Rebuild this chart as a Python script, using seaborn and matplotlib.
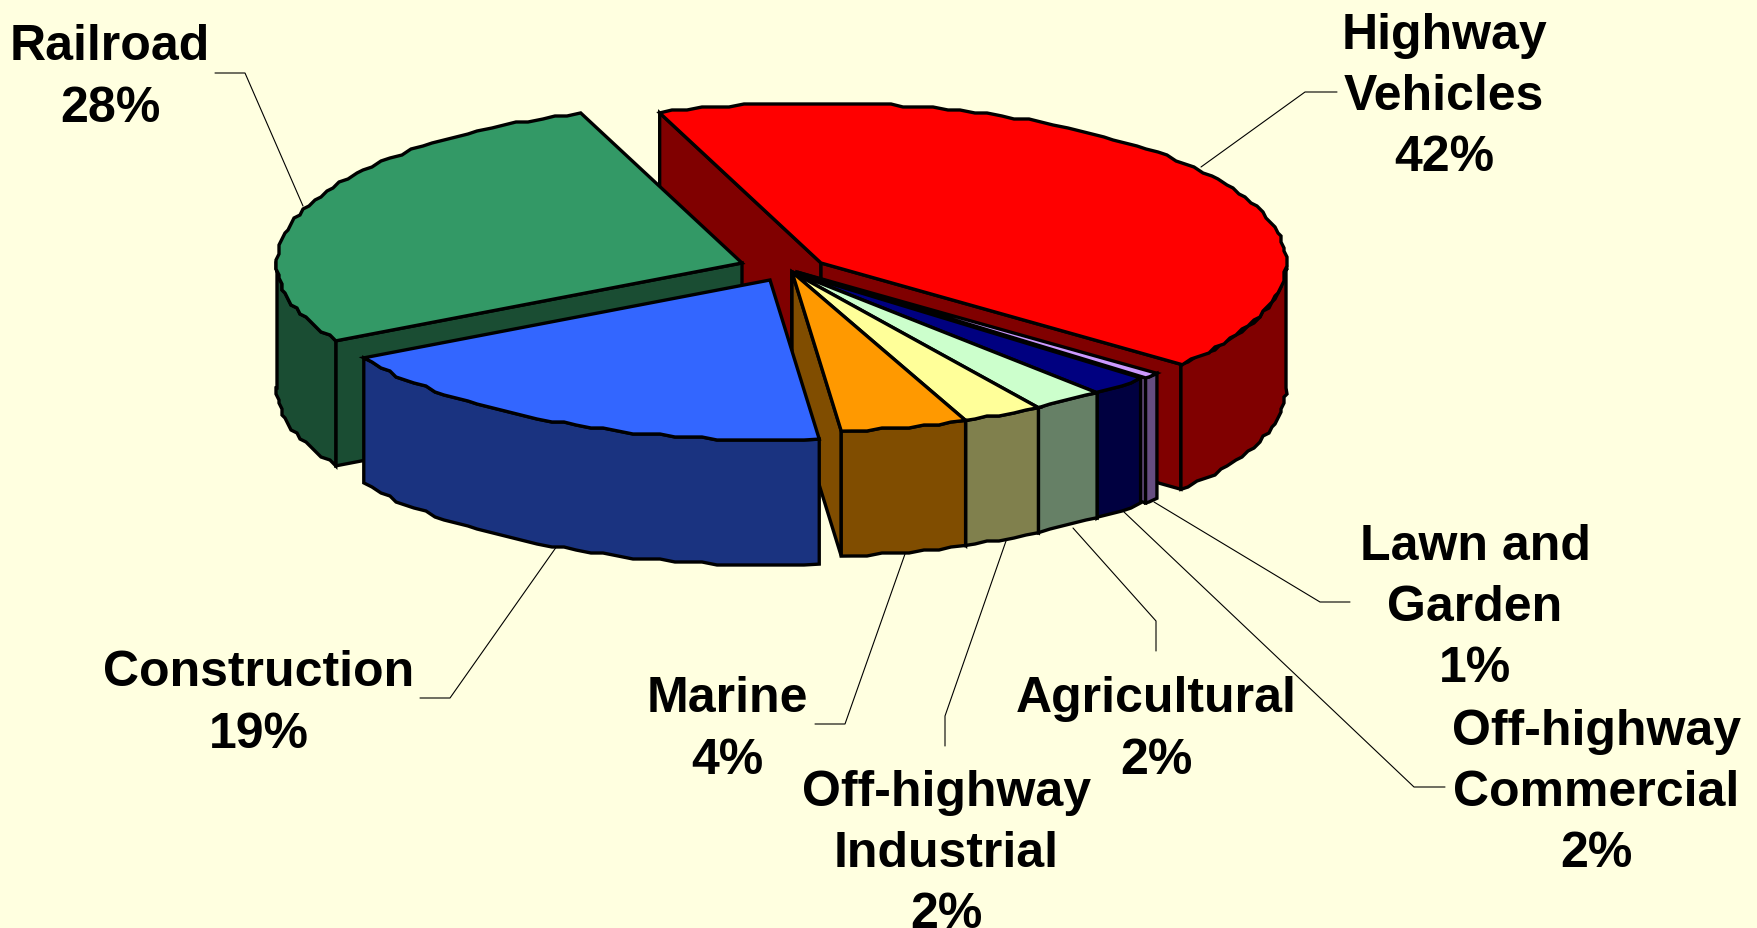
import numpy as np
import pandas as pd
import matplotlib
matplotlib.use("Agg")
import matplotlib.pyplot as plt
import seaborn as sns

# slice order runs clockwise from the red slice
categories = ["Highway\nVehicles", "Lawn and\nGarden", "Off-highway\nCommercial",
              "Agricultural", "Off-highway\nIndustrial", "Marine",
              "Construction", "Railroad"]
shares = [41.55, 0.6, 2.1, 2.5, 2.8, 4.4, 18.6, 27.45]
pct_labels = ["42%", "1%", "2%", "2%", "2%", "4%", "19%", "28%"]
top_colors = ["#FF0000", "#CC99FF", "#000080", "#CCFFCC", "#FFFF99",
              "#FF9900", "#3366FF", "#339966"]

# apex shift of the pulled out slices, pixels
shift_x = [29, 5, 0, 0, 0, 0, -22, -50]
shift_y = [-9, 0, 0, 0, 0, 0, 8, -9]

# where each label sits and the elbow of its leader
label_x = [1444, 1475, 1596, 1156, 946, 727, 259, 110]
label_y = [97, 608, 793, 730, 854, 730, 704, 78]
leader_x = [[1201, 1305, 1337], [1154, 1320, 1350], [1124, 1414, 1445], [1073, 1156, 1156],
            [1006, 945, 945], [905, 845, 815], [557, 450, 420], [303, 245, 215]]
leader_y = [[168, 93, 93], [503, 603, 603], [513, 788, 788], [529, 622, 652],
            [542, 717, 747], [555, 725, 725], [547, 699, 699], [207, 74, 74]]

BG = "#FFFFE0"
CX, CY = 792, 273
RX, RY = 465, 160
DEPTH = 125
START = -20.3

sns.set_theme(style="white")
plt.rcParams["font.family"] = ["Liberation Sans", "DejaVu Sans"]

df = pd.DataFrame({"name": categories, "share": shares, "pct": pct_labels})
df["sweep"] = df["share"] / df["share"].sum() * 360
df["t0"] = START + df["sweep"].cumsum().shift(fill_value=0)
df["t1"] = df["t0"] + df["sweep"]

palette = sns.color_palette(top_colors)


def arc(t0, t1, ox, oy):
    # rim points of the ellipse, snapped a bit to get the stepped outline
    t = np.radians(np.arange(t0, t1, 1.8).tolist() + [t1])
    x = ox + RX * np.sin(t)
    y = oy - RY * np.cos(t)
    x[1:-1] = np.round(x[1:-1] / 3) * 3
    y[1:-1] = np.round(y[1:-1] / 3) * 3
    return x, y


def draw_slice(ax, row, color, dx, dy):
    ox, oy = CX + dx, CY + dy
    dark = tuple(c * 0.5 for c in color)
    kw = dict(edgecolor="black", linewidth=2.4, joinstyle="miter")
    x, y = arc(row.t0, row.t1, ox, oy)

    # radial cut faces, only when they look towards the viewer
    if np.sin(np.radians(row.t0)) < 0:
        ax.fill([ox, x[0], x[0], ox], [oy, y[0], y[0] + DEPTH, oy + DEPTH], facecolor=dark, **kw)
    if np.sin(np.radians(row.t1)) > 0:
        ax.fill([ox, x[-1], x[-1], ox], [oy, y[-1], y[-1] + DEPTH, oy + DEPTH], facecolor=dark, **kw)

    # outer wall, front half of the rim
    a, b = max(row.t0, 90), min(row.t1, 270)
    if b > a:
        wx, wy = arc(a, b, ox, oy)
        ax.fill(np.r_[wx, wx[::-1]], np.r_[wy, wy[::-1] + DEPTH], facecolor=dark, **kw)

    ax.fill(np.r_[ox, x], np.r_[oy, y], facecolor=color, **kw)


fig = plt.figure(figsize=(17.57, 9.29), dpi=100, facecolor=BG)
ax = fig.add_axes([0, 0, 1, 1])
ax.set_xlim(0, 1757)
ax.set_ylim(929, 0)
ax.axis("off")

# leaders go under the pie
for lx, ly in zip(leader_x, leader_y):
    ax.plot(lx, ly, color="black", linewidth=0.8, zorder=0)

# painter's order: red, then railroad behind, then the rest front to left
order = [0, 7, 1, 2, 3, 4, 5, 6]
for i in order:
    draw_slice(ax, df.iloc[i], palette[i], shift_x[i], shift_y[i])

for i, row in df.iterrows():
    ax.text(label_x[i], label_y[i], row["name"] + "\n" + row["pct"], ha="center", va="center",
            fontsize=36, fontweight="bold", color="black", linespacing=1.42, clip_on=False)

fig.savefig("out.png", dpi=100, facecolor=BG)
